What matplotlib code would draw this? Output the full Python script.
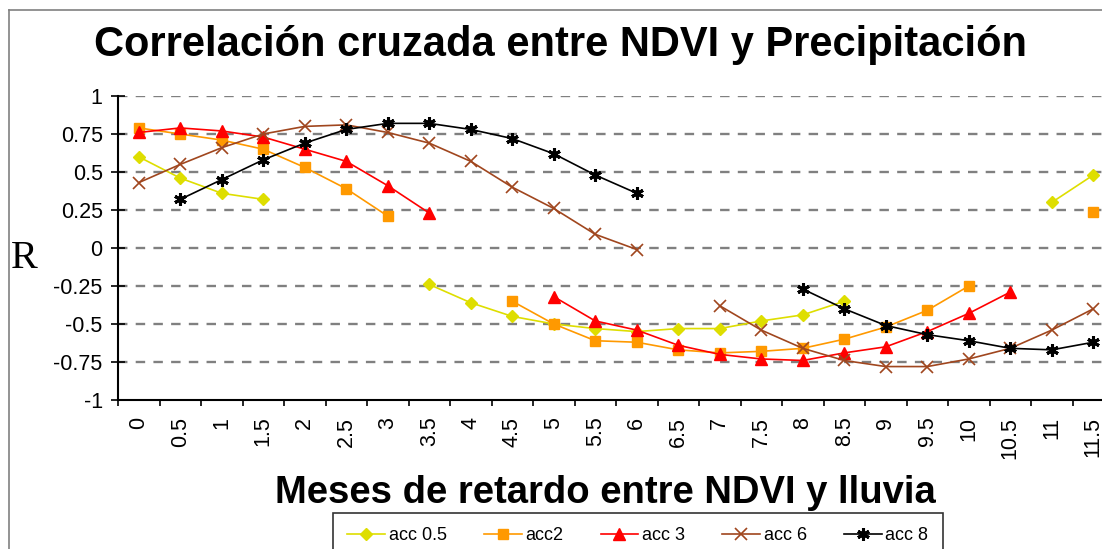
import numpy as np
import matplotlib
matplotlib.use("Agg")
import matplotlib.pyplot as plt
from matplotlib.lines import Line2D
from matplotlib.ticker import FixedLocator

nan = np.nan

# lag categories (months)
lags = ['0', '0.5', '1', '1.5', '2', '2.5', '3', '3.5', '4', '4.5', '5', '5.5',
        '6', '6.5', '7', '7.5', '8', '8.5', '9', '9.5', '10', '10.5', '11', '11.5']

# correlation R per lag (NaN = gap)
acc05 = [0.60, 0.46, 0.36, 0.32, nan, nan, nan, -0.24, -0.36, -0.45, -0.50, -0.53,
         -0.55, -0.53, -0.53, -0.48, -0.44, -0.35, nan, nan, nan, nan, 0.30, 0.48]
acc2 = [0.79, 0.75, 0.71, 0.65, 0.53, 0.39, 0.21, nan, nan, -0.35, -0.50, -0.61,
        -0.62, -0.67, -0.69, -0.68, -0.66, -0.60, -0.52, -0.41, -0.25, nan, nan, 0.24]
acc3 = [0.76, 0.79, 0.77, 0.73, 0.65, 0.57, 0.41, 0.23, nan, nan, -0.32, -0.48,
        -0.54, -0.64, -0.70, -0.73, -0.74, -0.69, -0.65, -0.55, -0.43, -0.29, nan, nan]
acc6 = [0.43, 0.55, 0.66, 0.75, 0.80, 0.81, 0.76, 0.69, 0.57, 0.40, 0.26, 0.09,
        -0.01, nan, -0.38, -0.54, -0.66, -0.74, -0.78, -0.78, -0.73, -0.66, -0.54, -0.40]
acc8 = [nan, 0.32, 0.45, 0.58, 0.69, 0.78, 0.82, 0.82, 0.78, 0.72, 0.62, 0.48,
        0.36, nan, nan, nan, -0.27, -0.40, -0.51, -0.57, -0.61, -0.66, -0.67, -0.62]

series_names = ['acc 0.5', 'acc2', 'acc 3', 'acc 6', 'acc 8']

plt.rcParams['font.family'] = ['Liberation Sans', 'DejaVu Sans']

W, H = 1102, 549
fig = plt.figure(figsize=(W / 100, H / 100), dpi=100)
ax = fig.add_axes([118 / W, 1 - 400 / H, 1 - 118 / W, (400 - 96) / H])

x = np.arange(len(lags))

# series styles
ax.plot(x, acc05, color='#dede00', lw=1.2, marker='D', ms=6.5, label=series_names[0])
ax.plot(x, acc2, color='#ff9900', lw=1.2, marker='s', ms=7, label=series_names[1])
ax.plot(x, acc3, color='#ff0000', lw=1.2, marker='^', ms=8, label=series_names[2])
ax.plot(x, acc6, color='#a0461e', lw=1.2, marker='x', ms=8, mew=1.2, label=series_names[3])
ax.plot(x, acc8, color='#000000', lw=1.2, marker=(6, 2, 0), ms=9, mew=2.2, label=series_names[4])

ax.set_xlim(-0.5, 23.21)
ax.set_ylim(-1, 1)

# y axis
yt = np.arange(-1, 1.01, 0.25)
ax.set_yticks(yt)
ax.set_yticklabels(['-1', '-0.75', '-0.5', '-0.25', '0', '0.25', '0.5', '0.75', '1'])
ax.tick_params(axis='y', direction='inout', length=10, width=1.2, labelsize=15.5, pad=6)
for v in yt[1:]:
    ax.axhline(v, color='#808080', lw=1.7, dashes=(4, 3.5), zorder=0)

# x axis: labels at category centers, ticks at boundaries
ax.set_xticks(x)
ax.set_xticklabels(lags, rotation=90)
ax.tick_params(axis='x', which='major', length=0, labelsize=15.5, pad=12)
ax.xaxis.set_minor_locator(FixedLocator(np.arange(-0.5, 24, 1)))
ax.tick_params(axis='x', which='minor', direction='out', length=4, width=1.2)

for s in ['top', 'right']:
    ax.spines[s].set_visible(False)
ax.spines['left'].set_linewidth(1.5)
ax.spines['bottom'].set_linewidth(1.5)

# titles
fig.text(561 / W, 1 - 56 / H, 'Correlación cruzada entre NDVI y Precipitación',
         ha='center', va='baseline', fontsize=30, fontweight='bold')
fig.text(605 / W, 1 - 503 / H, 'Meses de retardo entre NDVI y lluvia',
         ha='center', va='baseline', fontsize=27.5, fontweight='bold')
fig.text(11 / W, 1 - 268 / H, 'R', ha='left', va='baseline', fontsize=29,
         family=['Liberation Serif', 'DejaVu Serif'])

# outer chart border
fig.add_artist(Line2D([9 / W, 9 / W], [0, 1 - 10 / H], color='#808080', lw=1.2))
fig.add_artist(Line2D([9 / W, 1], [1 - 10 / H, 1 - 10 / H], color='#808080', lw=1.2))

leg = fig.legend(loc='upper left', bbox_to_anchor=(333 / W, 1 - 513 / H), ncol=5,
                 fontsize=13, frameon=True, fancybox=False, edgecolor='black',
                 handlelength=2.1, handletextpad=0.2, columnspacing=2.05,
                 borderpad=0.8, borderaxespad=0)
leg.get_frame().set_linewidth(1.2)

fig.savefig('out.png', dpi=100)
